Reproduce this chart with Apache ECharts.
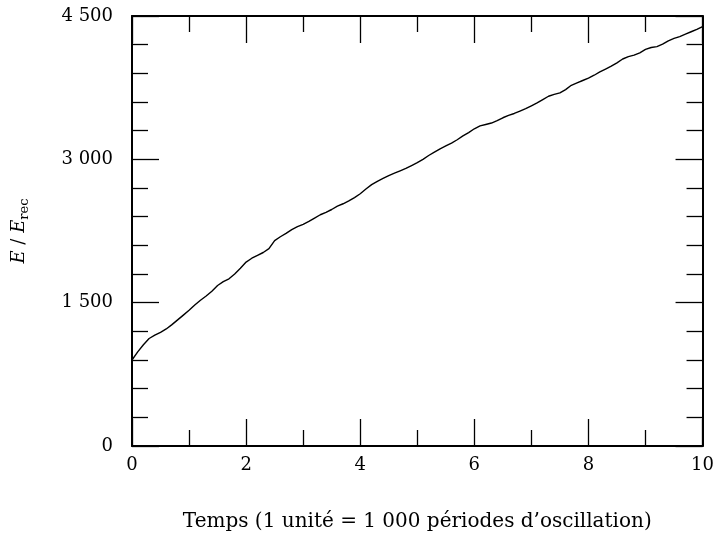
<!DOCTYPE html>
<html>
<head>
<meta charset="utf-8">
<script src="https://cdn.jsdelivr.net/npm/echarts@6/dist/echarts.min.js"></script>
<style>html,body{margin:0;padding:0;background:#fff}#c{width:717px;height:539px}</style>
</head>
<body>
<div id="c"></div>
<script>
const times = [0.0,0.1,0.2,0.3,0.4,0.5,0.6,0.7,0.8,0.9,1.0,1.1,1.2,1.3,1.4,1.5,1.6,1.7,1.8,1.9,2.0,2.1,2.2,2.3,2.4,2.5,2.6,2.7,2.8,2.9,3.0,3.1,3.2,3.3,3.4,3.5,3.6,3.7,3.8,3.9,4.0,4.1,4.2,4.3,4.4,4.5,4.6,4.7,4.8,4.9,5.0,5.1,5.2,5.3,5.4,5.5,5.6,5.7,5.8,5.9,6.0,6.1,6.2,6.3,6.4,6.5,6.6,6.7,6.8,6.9,7.0,7.1,7.2,7.3,7.4,7.5,7.6,7.7,7.8,7.9,8.0,8.1,8.2,8.3,8.4,8.5,8.6,8.7,8.8,8.9,9.0,9.1,9.2,9.3,9.4,9.5,9.6,9.7,9.8,9.9,10.0];
const energy = [900,985,1060,1125,1160,1190,1225,1270,1320,1370,1420,1475,1525,1570,1620,1680,1720,1750,1800,1860,1925,1965,1995,2025,2065,2150,2190,2225,2265,2295,2320,2350,2385,2420,2445,2475,2510,2535,2565,2600,2640,2690,2735,2770,2800,2830,2855,2880,2905,2935,2965,3000,3040,3075,3110,3140,3170,3205,3245,3280,3320,3350,3365,3380,3405,3435,3460,3480,3505,3530,3560,3590,3625,3660,3680,3695,3730,3775,3800,3825,3850,3880,3915,3945,3975,4010,4050,4075,4090,4115,4150,4170,4180,4205,4240,4265,4285,4310,4335,4360,4390];
const xTicks = [0, 2, 4, 6, 8, 10];
const yTicks = [0, 1500, 3000, 4500];
const xTitle = 'Temps (1 unité = 1 000 périodes d\u2019oscillation)';

const FONT = 'DejaVu Serif';
function fmt(v) { return String(v).replace(/\B(?=(\d{3})+(?!\d))/g, ' '); }

const chart = echarts.init(document.getElementById('c'), null, {renderer: 'canvas'});
const lineStyle = {color: '#000', width: 2};
const tickStyle = {color: '#000', width: 1.3};
function xAx(pos, show) {
  return {
    type: 'value', position: pos, min: 0, max: 10, interval: 2,
    axisLine: {show: true, onZero: false, lineStyle: lineStyle},
    axisTick: {show: true, inside: true, length: 27, lineStyle: tickStyle},
    minorTick: {show: true, splitNumber: 2, length: 16, lineStyle: tickStyle},
    splitLine: {show: false},
    axisLabel: {show: show, color: '#000', fontFamily: FONT, fontSize: 18, margin: 10,
      formatter: v => xTicks.includes(v) ? fmt(v) : ''},
    name: show ? xTitle : '', nameLocation: 'middle', nameGap: 66,
    nameTextStyle: {color: '#000', fontFamily: FONT, fontSize: 20}
  };
}
function yAx(pos, show) {
  return {
    type: 'value', position: pos, min: 0, max: 4500, interval: 1500,
    axisLine: {show: true, onZero: false, lineStyle: lineStyle},
    axisTick: {show: true, inside: true, length: 27, lineStyle: tickStyle},
    minorTick: {show: true, splitNumber: 5, length: 16, lineStyle: tickStyle},
    splitLine: {show: false},
    axisLabel: {show: show, color: '#000', fontFamily: FONT, fontSize: 18, margin: 19,
      padding: [0, 0, 8, 0],
      formatter: v => yTicks.includes(v) ? fmt(v) : ''},
    name: show ? '{i|E}{n| / }{i|E}{s|rec}' : '', nameLocation: 'middle', nameGap: 101,
    nameTextStyle: {color: '#000', fontFamily: FONT, fontSize: 18,
      rich: {
        i: {fontFamily: FONT, fontStyle: 'italic', fontSize: 18, color: '#000'},
        n: {fontFamily: FONT, fontSize: 18, color: '#000'},
        s: {fontFamily: FONT, fontSize: 13, color: '#000', padding: [10, 0, 0, 0]}
      }}
  };
}
chart.setOption({
  animation: false,
  backgroundColor: '#fff',
  grid: {left: 132, right: 12, top: 16, bottom: 93, containLabel: false},
  xAxis: [xAx('bottom', true), xAx('top', false)],
  yAxis: [yAx('left', true), yAx('right', false)],
  series: [{
    type: 'line', xAxisIndex: 0, yAxisIndex: 0, showSymbol: false, smooth: false,
    lineStyle: {color: '#000', width: 1.4},
    data: times.map((t, i) => [t, energy[i]])
  }]
});
</script>
</body>
</html>
